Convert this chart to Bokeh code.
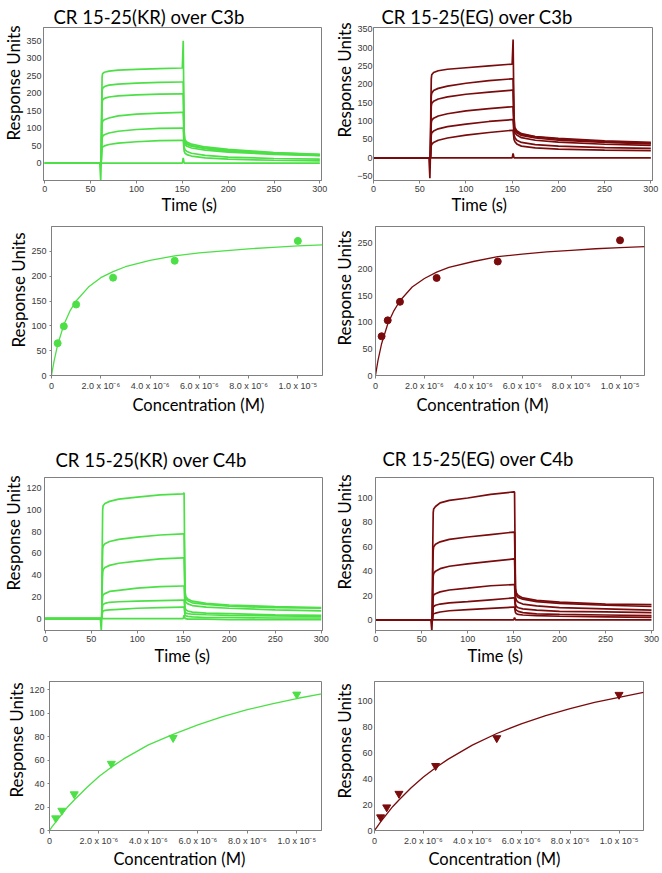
from bokeh.plotting import figure
from bokeh.layouts import column, row
from bokeh.models import Title, FixedTicker, CustomJSTickFormatter, Range1d
from bokeh.embed import file_html
from bokeh.resources import INLINE

# ---------------- data ----------------
# sensorgram time grid (s)
t_grid = [0, 60, 61, 61.5, 62, 62.5, 63, 65, 70, 80, 100, 125, 150, 151, 152, 153, 155, 160, 175, 200, 250, 300]
time_ticks = [0, 50, 100, 150, 200, 250, 300]

# CR 15-25(KR) over C3b (RU), highest to lowest concentration, then buffer
kr_c3b_1 = [0, 0, -50, 0, 150, 245, 256, 260, 263, 266, 268, 270, 272, 350, 90, 66, 60, 54, 46, 39, 30, 25]
kr_c3b_2 = [0, 0, 0, 0, 120, 205, 214, 219, 223, 226, 229, 231, 232, 232, 70, 61, 56, 50, 43, 36, 29, 24]
kr_c3b_3 = [0, 0, 0, 0, 100, 170, 180, 185, 189, 192, 195, 197, 198, 198, 66, 58, 53, 48, 41, 34, 27, 22]
kr_c3b_4 = [0, 0, 0, 0, 70, 112, 119, 124, 129, 135, 140, 143, 145, 145, 58, 52, 48, 43, 37, 31, 25, 21]
kr_c3b_5 = [0, 0, 0, 0, 45, 70, 76, 81, 86, 91, 96, 99, 100, 100, 45, 38, 33, 28, 22, 17, 13, 11]
kr_c3b_6 = [0, 0, 0, 0, 30, 42, 46, 49, 53, 57, 61, 64, 65, 65, 34, 28, 24, 20, 15, 11, 8, 6]
kr_c3b_0 = [0, 0, 0, 0, 0, 0, 0, 0, 0, 0, 0, 0, 0, 15, 0, 0, 0, 0, 0, 0, 0, 0]

# CR 15-25(EG) over C3b
eg_c3b_1 = [0, 0, -55, 0, 130, 215, 226, 232, 237, 241, 245, 250, 255, 322, 110, 82, 74, 66, 58, 53, 46, 42]
eg_c3b_2 = [0, 0, 0, 0, 100, 168, 176, 183, 189, 195, 203, 210, 215, 215, 85, 77, 71, 64, 57, 51, 44, 40]
eg_c3b_3 = [0, 0, 0, 0, 80, 140, 148, 154, 160, 166, 173, 179, 184, 184, 80, 74, 68, 61, 54, 48, 42, 38]
eg_c3b_4 = [0, 0, 0, 0, 55, 95, 102, 108, 114, 120, 128, 134, 139, 139, 75, 68, 62, 55, 48, 43, 37, 34]
eg_c3b_5 = [0, 0, 0, 0, 35, 62, 68, 73, 79, 85, 92, 99, 104, 104, 62, 55, 48, 42, 36, 32, 28, 26]
eg_c3b_6 = [0, 0, 0, 0, 20, 33, 37, 42, 48, 54, 62, 69, 75, 75, 50, 44, 38, 32, 27, 24, 21, 20]
eg_c3b_0 = [0, 0, 0, 0, 0, 0, 0, 0, 0, 0, 0, 0, 0, 12, 0, 0, 0, 0, 0, 0, 0, 0]

# CR 15-25(KR) over C4b
kr_c4b_1 = [0, 0, -11, 0, 60, 100, 104, 106, 108, 110, 112, 114, 115, 116, 25, 20, 18, 16, 14, 12.5, 11, 10]
kr_c4b_2 = [0, 0, 0, 0, 40, 64, 67, 69, 71, 73, 75, 77, 78, 78, 21, 18, 16.5, 14.5, 13, 11.5, 10, 9.5]
kr_c4b_3 = [0, 0, 0, 0, 30, 42, 45, 47, 49, 51, 53, 55, 56, 56, 17, 15, 13.5, 12, 10.5, 9.5, 8, 7]
kr_c4b_4 = [0, 0, 0, 0, 15, 20, 22, 23, 25, 26, 28, 29.5, 30, 30, 10, 8, 7, 6, 5, 4.5, 3.5, 3]
kr_c4b_5 = [0, 0, 0, 0, 8, 12, 13, 14, 15, 15.5, 16, 16.5, 17, 17, 6, 5, 4.5, 4, 3.5, 3, 2.5, 2]
kr_c4b_6 = [0, 0, 0, 0, 4, 6, 7, 7.5, 8, 8.5, 9.5, 10, 10.5, 10.5, 3, 2.5, 2, 1.5, 1, 1, 0.5, 0.5]
kr_c4b_0 = [0, 0, 0, 0, 0, 0, 0, 0, 0, 0, 0, 0, 0, 3, 0, 0, -0.5, -0.5, -0.5, -1, -1, -1]

# CR 15-25(EG) over C4b
eg_c4b_1 = [0, 0, -9, 0, 60, 88, 91, 93, 96, 98, 100, 103, 105, 105, 26, 22, 20, 18, 16, 14.5, 13, 12.5]
eg_c4b_2 = [0, 0, 0, 0, 40, 57, 60, 62, 64, 66, 68, 70, 72, 72, 23, 20, 18.5, 17, 15, 13.5, 12, 11]
eg_c4b_3 = [0, 0, 0, 0, 25, 36, 38, 40, 42, 44, 46, 48, 50, 50, 19, 16, 14.5, 13, 11.5, 10, 9, 8]
eg_c4b_4 = [0, 0, 0, 0, 12, 19, 20.5, 21.5, 23, 24.5, 26, 28, 29, 29, 13, 11, 10, 9, 8, 7, 6.5, 6]
eg_c4b_5 = [0, 0, 0, 0, 6, 10, 11, 12, 13, 14, 15, 16.5, 18, 18, 9, 8, 7, 6, 5, 4.5, 4, 3.5]
eg_c4b_6 = [0, 0, 0, 0, 3, 4.5, 5, 5.5, 6.5, 7.5, 8.5, 9.5, 10.5, 10.5, 6, 5, 4.5, 4, 3.5, 3, 2.5, 2]
eg_c4b_0 = [0, 0, 0, 0, 0, 0, 0, 0, 0, 0, 0, 0, 0, 2, 0, 0, 0, 0, 0, 0, 0, 0]

# steady-state responses vs concentration (M)
conc = [0.25e-6, 0.5e-6, 1e-6, 2.5e-6, 5e-6, 1e-5]
kr_c3b_eq = [65, 99, 143, 197, 231, 271]
eg_c3b_eq = [74, 104, 139, 184, 215, 255]
kr_c4b_eq = [10.5, 17, 31, 57, 79, 116]
eg_c4b_eq = [10.3, 18, 28.5, 50, 71.5, 105]

# fitted curves
fit_conc = [0, 0.1e-6, 0.25e-6, 0.5e-6, 0.75e-6, 1e-6, 1.5e-6, 2e-6, 2.5e-6, 3e-6,
            4e-6, 5e-6, 6e-6, 7e-6, 8e-6, 9e-6, 1e-5, 1.1e-5]
kr_c3b_fit = [0, 28, 62, 102, 130, 150, 178, 197, 209, 219, 232, 241, 247, 251, 255, 258, 261, 263]
eg_c3b_fit = [0, 28, 60, 97, 122, 141, 167, 183, 195, 204, 215, 224, 229, 233, 236, 239, 241, 243]
kr_c4b_fit = [0, 3, 7.2, 14, 20.5, 26, 36.5, 46, 54, 61, 73, 82, 90, 97, 103, 108, 112.5, 116.5]
eg_c4b_fit = [0, 2.7, 6.6, 12.7, 18.6, 23.6, 33, 41.3, 48.5, 55, 66, 75, 82.5, 88.8, 94.3, 99, 103, 106.8]

conc_ticks = [0, 2e-6, 4e-6, 6e-6, 8e-6, 1e-5]
conc_tick_labels = ["0", "2.0 x 10\u207b\u2076", "4.0 x 10\u207b\u2076", "6.0 x 10\u207b\u2076",
                    "8.0 x 10\u207b\u2076", "1.0 x 10\u207b\u2075"]

titles = ["CR 15-25(KR) over C3b", "CR 15-25(EG) over C3b", "CR 15-25(KR) over C4b", "CR 15-25(EG) over C4b"]
y_label = "Response Units"
x_label_time = "Time (s)"
x_label_conc = "Concentration (M)"

GREEN = "#4ce046"
RED = "#7a0b0d"
AXIS = "#808080"
TICKTXT = "#3a3a3a"
FONT = "Lato"


def make_fig(w, h, b, xr, yr, xticks, yticks, ytick=(2, 3), conc_axis=False):
    p = figure(width=w, height=h, output_backend="svg", toolbar_location=None, tools="",
               x_range=Range1d(*xr), y_range=Range1d(*yr),
               min_border_left=b[0], min_border_right=b[1], min_border_top=b[2], min_border_bottom=b[3])
    p.grid.visible = False
    p.outline_line_color = AXIS
    p.outline_line_width = 1
    p.background_fill_color = "white"
    p.border_fill_color = "white"
    p.title.standoff = 0
    p.xaxis.ticker = FixedTicker(ticks=xticks)
    p.yaxis.ticker = FixedTicker(ticks=yticks)
    for ax in (p.xaxis, p.yaxis):
        ax.axis_line_color = AXIS
        ax.major_tick_line_color = AXIS
        ax.minor_tick_line_color = None
        ax.major_tick_in = 0
        ax.major_label_text_font = "Liberation Sans"
        ax.major_label_text_font_size = "9px"
        ax.major_label_text_color = TICKTXT
    p.xaxis.major_tick_out = 3
    p.xaxis.major_label_standoff = 2
    p.yaxis.major_tick_out = ytick[0]
    p.yaxis.major_label_standoff = ytick[1]
    if conc_axis:
        p.xaxis.formatter = CustomJSTickFormatter(args=dict(tvals=conc_ticks, tlabels=conc_tick_labels), code="""
            for (let i = 0; i < tvals.length; i++) {
                if (Math.abs(tvals[i] - tick) < 1e-12) { return tlabels[i]; }
            }
            return "";
        """)
    return p


def set_title(p, text, offset, standoff=0):
    p.title.text = text
    p.title.align = "left"
    p.title.offset = offset
    p.title.standoff = standoff
    p.title.text_font = FONT
    p.title.text_font_size = "18.5px"
    p.title.text_font_style = "normal"
    p.title.text_color = "black"
    p.title.vertical_align = "bottom"


def add_labels(p, xtext, xoff, yoff, xstand=0, spacer=0):
    p.add_layout(Title(text=xtext, align="left", offset=xoff, standoff=xstand, vertical_align="top",
                       text_font=FONT, text_font_size="16.5px", text_font_style="normal",
                       text_color="black"), "below")
    if spacer:
        p.add_layout(Title(text=" ", text_font_size="1px", text_alpha=0, standoff=spacer), "left")
    p.add_layout(Title(text=y_label, align="left", offset=yoff, standoff=0, vertical_align="bottom",
                       text_font=FONT, text_font_size="17px", text_font_style="normal",
                       text_color="black"), "left")


def sensor(p, traces, color):
    for tr in traces:
        p.line(t_grid, tr, line_color=color, line_width=1.7)


def langmuir(p, eq, fit, color, marker, size):
    p.line(fit_conc, fit, line_color=color, line_width=1.3)
    p.scatter(conc, eq, marker=marker, size=size, fill_color=color, line_color=color)


# Row A
p1 = make_fig(331, 216, (43, 10, 27, 36), (-1.4, 301.8), (-50, 388), time_ticks,
              [0, 50, 100, 150, 200, 250, 300, 350], ytick=(0, 2))
sensor(p1, [kr_c3b_0, kr_c3b_6, kr_c3b_5, kr_c3b_4, kr_c3b_3, kr_c3b_2, kr_c3b_1], GREEN)
set_title(p1, titles[0], 10)
add_labels(p1, x_label_time, 118, 40)

p2 = make_fig(331, 216, (40, 10, 25, 36), (0, 301.8), (-61.5, 354.5), time_ticks,
              [-50, 0, 50, 100, 150, 200, 250, 300, 350], ytick=(0, 1))
sensor(p2, [eg_c3b_0, eg_c3b_6, eg_c3b_5, eg_c3b_4, eg_c3b_3, eg_c3b_2, eg_c3b_1], RED)
set_title(p2, titles[1], 8)
add_labels(p2, x_label_time, 78, 43)

# Row B
p3 = make_fig(331, 206, (51, 9, 10, 47), (0, 1.1e-5), (0, 300), conc_ticks,
              [0, 50, 100, 150, 200, 250], ytick=(2, 3), conc_axis=True)
langmuir(p3, kr_c3b_eq, kr_c3b_fit, GREEN, "circle", 7)
add_labels(p3, x_label_conc, 81, 28, xstand=3, spacer=1)

p4 = make_fig(331, 206, (43, 18, 10, 47), (0, 1.1e-5), (0, 281), conc_ticks,
              [0, 50, 100, 150, 200, 250], ytick=(0, 3), conc_axis=True)
langmuir(p4, eg_c3b_eq, eg_c3b_fit, RED, "circle", 7)
add_labels(p4, x_label_conc, 41, 30, xstand=3)

# Row C
p5 = make_fig(331, 250, (42, 9, 53, 42), (-0.7, 301.4), (-11, 130), time_ticks,
              [0, 20, 40, 60, 80, 100, 120], ytick=(0, 3))
sensor(p5, [kr_c4b_0, kr_c4b_6, kr_c4b_5, kr_c4b_4, kr_c4b_3, kr_c4b_2, kr_c4b_1], GREEN)
set_title(p5, titles[2], 11, standoff=13)
add_labels(p5, x_label_time, 110, 40, xstand=2)

p6 = make_fig(331, 250, (41, 9, 55, 41), (-0.3, 302.2), (-8.7, 116.8), time_ticks,
              [0, 20, 40, 60, 80, 100], ytick=(0, 3))
sensor(p6, [eg_c4b_0, eg_c4b_6, eg_c4b_5, eg_c4b_4, eg_c4b_3, eg_c4b_2, eg_c4b_1], RED)
set_title(p6, titles[3], 7, standoff=15)
add_labels(p6, x_label_time, 92, 41, xstand=2)

# Row D
p7 = make_fig(331, 201, (49, 10, 9, 43), (0, 1.1e-5), (0, 127), conc_ticks,
              [0, 20, 40, 60, 80, 100, 120], ytick=(2, 3), conc_axis=True)
langmuir(p7, kr_c4b_eq, kr_c4b_fit, GREEN, "inverted_triangle", 8)
add_labels(p7, x_label_conc, 64, 33)

p8 = make_fig(331, 201, (41, 19, 9, 43), (0, 1.1e-5), (0, 115.2), conc_ticks,
              [0, 20, 40, 60, 80, 100], ytick=(0, 2), conc_axis=True)
langmuir(p8, eg_c4b_eq, eg_c4b_fit, RED, "inverted_triangle", 8)
add_labels(p8, x_label_conc, 54, 32)

layout = column(row(p1, p2), row(p3, p4), row(p5, p6), row(p7, p8))

open("out.html", "w").write(file_html(layout, INLINE))
